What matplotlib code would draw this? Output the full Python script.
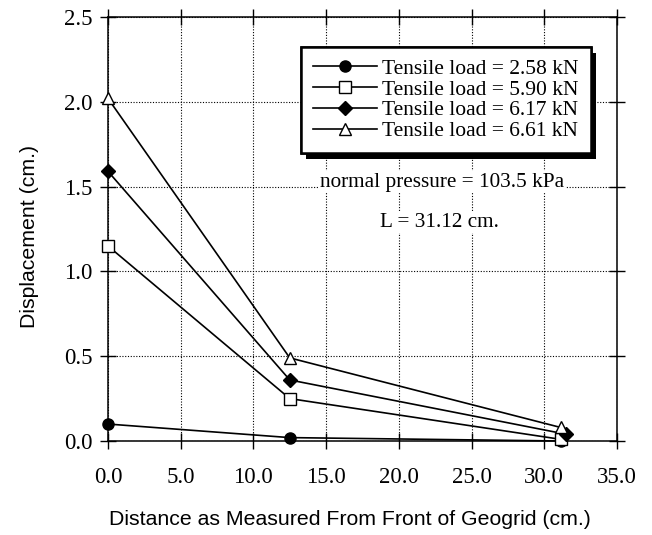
import numpy as np
import matplotlib.pyplot as plt
from matplotlib import patheffects

# displacement along the geogrid for each tensile load
dist = [0.0, 12.5, 31.12]
dist_d = [0.0, 12.5, 31.5]
disp_258 = [0.10, 0.02, 0.0]
disp_590 = [1.15, 0.25, 0.01]
disp_617 = [1.59, 0.36, 0.04]
disp_661 = [2.02, 0.49, 0.08]
xticks = [0, 5, 10, 15, 20, 25, 30, 35]
yticks = [0.0, 0.5, 1.0, 1.5, 2.0, 2.5]

serif = 'Liberation Serif'
sans = 'Liberation Sans'

fig = plt.figure(figsize=(6.52, 5.35), dpi=100)
ax = fig.add_axes([0.1656, 0.1757, 0.7807, 0.7925])

kw = dict(color='k', lw=1.2, ms=8, clip_on=False, zorder=5)
ax.plot(dist, disp_258, marker='o', mfc='k', label='Tensile load = 2.58 kN', **kw)
ax.plot(dist, disp_590, marker='s', mfc='white', mew=1.0, label='Tensile load = 5.90 kN', **kw)
ax.plot(dist_d, disp_617, marker='D', mfc='k', ms=7, color='k', lw=1.2, clip_on=False, zorder=5,
        label='Tensile load = 6.17 kN')
ax.plot(dist, disp_661, marker='^', mfc='white', mew=1.0, label='Tensile load = 6.61 kN', **kw)

ax.set_xlim(0, 35)
ax.set_ylim(0, 2.5)
ax.set_xticks(xticks)
ax.set_xticklabels(['%.1f' % v for v in xticks], fontfamily=serif, fontsize=16.5)
ax.set_yticks(yticks)
ax.set_yticklabels(['%.1f' % v for v in yticks], fontfamily=serif, fontsize=16.5)
ax.tick_params(direction='inout', length=12, width=1, top=True, right=True, pad=5)
ax.tick_params(axis='x', pad=13)
ax.grid(True, color='k', ls=(0, (1, 1.5)), lw=0.8)
for s in ax.spines.values():
    s.set_linewidth(1.1)

ax.set_xlabel('Distance as Measured From Front of Geogrid (cm.)', fontfamily=sans, fontsize=15.3)
ax.set_ylabel('Displacement (cm.)', fontfamily=sans, fontsize=15.3)
ax.xaxis.set_label_coords(0.475, -0.185)
ax.xaxis.label.set_va('center')
ax.yaxis.set_label_coords(-0.155, 0.482)
ax.yaxis.label.set_va('center')

leg = ax.legend(loc='upper left', bbox_to_anchor=(0.3786, 0.929), prop={'family': serif, 'size': 15.5},
                handlelength=3.0, handletextpad=0.25, labelspacing=0.03, borderpad=0.55,
                borderaxespad=0, fancybox=False, framealpha=1, edgecolor='k')
leg.get_frame().set_linewidth(1.8)
leg.get_frame().set_path_effects([
    patheffects.withSimplePatchShadow(offset=(4, -4), shadow_rgbFace='k', alpha=1),
    patheffects.Normal()])

ax.text(23.0, 1.525, 'normal pressure = 103.5 kPa', fontfamily=serif, fontsize=15.3,
        ha='center', va='center', bbox=dict(fc='white', ec='none', pad=1))
ax.text(22.8, 1.29, 'L = 31.12 cm.', fontfamily=serif, fontsize=15.3, ha='center', va='center',
        bbox=dict(fc='white', ec='none', pad=1))

fig.savefig('out.png', dpi=100)
